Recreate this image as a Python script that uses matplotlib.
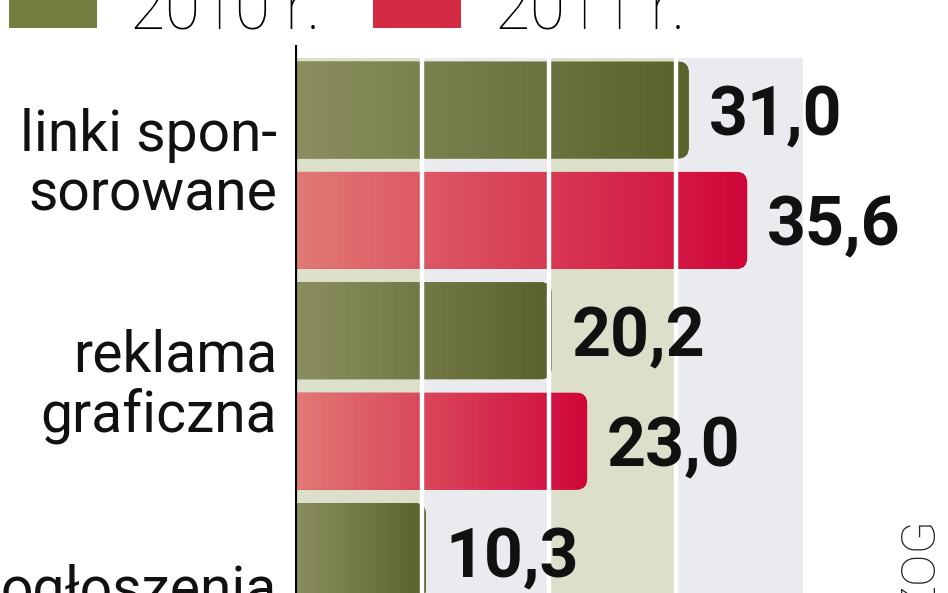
import numpy as np
import matplotlib
matplotlib.use("Agg")
import matplotlib.pyplot as plt
from matplotlib.colors import LinearSegmentedColormap
from matplotlib.patches import Patch, FancyBboxPatch

# ---- data ----
categories = ["linki spon-\nsorowane", "reklama\ngraficzna", "ogłoszenia"]
values_2010 = [31.0, 20.2, 10.3]
values_2011 = [35.6, 23.0]
legend_labels = ["2010 r.", "2011 r."]
grid_ticks = [10, 20, 30]
band_edges = [0, 10, 20, 30, 40]
source_text = "ZOG"

# ---- style ----
W, H, DPI = 948, 593, 100
GREEN_L, GREEN_R = "#8b8f60", "#59622a"
RED_L, RED_R = "#e27a76", "#d0063a"
GREEN_LEG, RED_LEG = "#757c3f", "#d42a44"
BAND_COLORS = ["#dcdfca", "#eaebee", "#dcdfca", "#eaebee"]

fig = plt.figure(figsize=(W / DPI, H / DPI), dpi=DPI)
fig.patch.set_facecolor("white")
ax_left_px = 295
px_per_unit = 12.7
ax = fig.add_axes([ax_left_px / W, 0, 1 - ax_left_px / W, 1])
ax.set_facecolor("white")

pitch = 110.4
first_center = 110
y_top = -first_center / pitch
y_bot = (H - first_center) / pitch
XMAX = (W - ax_left_px) / px_per_unit

band_top = (58 - first_center) / pitch
axis_top = (45 - first_center) / pitch
bar_h = 97 / pitch

# background bands
for i in range(len(band_edges) - 1):
    ax.fill_between([band_edges[i], band_edges[i + 1]], band_top, y_bot,
                    color=BAND_COLORS[i], lw=0, zorder=0)

pos_2010 = [2 * g for g in range(len(values_2010))]
pos_2011 = [2 * g + 1 for g in range(len(values_2011))]

bars_g = ax.barh(pos_2010, values_2010, height=bar_h, color=GREEN_R, lw=0, zorder=2)
bars_r = ax.barh(pos_2011, values_2011, height=bar_h, color=RED_R, lw=0, zorder=2)

cmap_g = LinearSegmentedColormap.from_list("g", [GREEN_L, GREEN_R])
cmap_r = LinearSegmentedColormap.from_list("r", [RED_L, RED_R])
grad = np.linspace(0, 1, 256).reshape(1, -1)
r_x = 11 / px_per_unit
aspect = (1 / pitch) / (1 / px_per_unit)
for bars, cmap, col in ((bars_g, cmap_g, GREEN_R), (bars_r, cmap_r, RED_R)):
    for rect in bars:
        x0, y0 = rect.get_x(), rect.get_y()
        w, h = rect.get_width(), rect.get_height()
        rect.set_visible(False)
        fb = FancyBboxPatch((x0 - 2 * r_x, y0), w + 2 * r_x, h,
                            boxstyle=f"round,pad=0,rounding_size={r_x}",
                            mutation_aspect=aspect, facecolor=col, lw=0, zorder=2)
        ax.add_patch(fb)
        im = ax.imshow(grad, cmap=cmap, extent=(x0, x0 + w, y0 + h, y0),
                       aspect="auto", zorder=2.5, interpolation="bilinear")
        im.set_clip_path(fb)

ax.set_xlim(0, XMAX)
ax.set_ylim(y_bot, y_top)

# white grid lines over bars
ax.vlines(grid_ticks, band_top, y_bot, color="white", lw=3.2, zorder=3)

# axis line
for s in ax.spines.values():
    s.set_visible(False)
ax.vlines(0, axis_top, y_bot, color="black", lw=3, zorder=5)
ax.set_xticks([])
ax.set_yticks([])

# value labels
val_font = dict(family="Roboto", fontweight="bold", fontsize=49, color="#111111")
off = 20 / px_per_unit
for p, v in zip(pos_2010, values_2010):
    ax.text(v + off, p, f"{v:.1f}".replace(".", ","), va="center_baseline", ha="left", **val_font, zorder=6)
for p, v in zip(pos_2011, values_2011):
    ax.text(v + off, p, f"{v:.1f}".replace(".", ","), va="center_baseline", ha="left", **val_font, zorder=6)

# category labels
lab_x = -18 / (W - ax_left_px)
for g, cat in enumerate(categories):
    ax.text(lab_x, 2 * g + 0.5, cat, transform=ax.get_yaxis_transform(),
            ha="right", va="center" if "\n" in cat else "baseline",
            multialignment="right",
            family="Roboto", fontsize=41, color="#111111", linespacing=1.1)

# legend
handles = [Patch(facecolor=GREEN_LEG, lw=0), Patch(facecolor=RED_LEG, lw=0)]
fig.legend(handles, legend_labels, ncol=2, loc="lower left",
           bbox_to_anchor=(9 / W, (H - 42) / H), frameon=False,
           borderpad=0, borderaxespad=0, handlelength=1.375, handleheight=0.65,
           handletextpad=0.52, columnspacing=0.83,
           prop=dict(family="Roboto", weight="light", size=46))

# source
fig.text(921 / W, (H - 517) / H, source_text, rotation=90, ha="center", va="top",
         family="Roboto", fontweight="light", fontsize=35, color="#222222")

fig.savefig("out.png", dpi=DPI)
